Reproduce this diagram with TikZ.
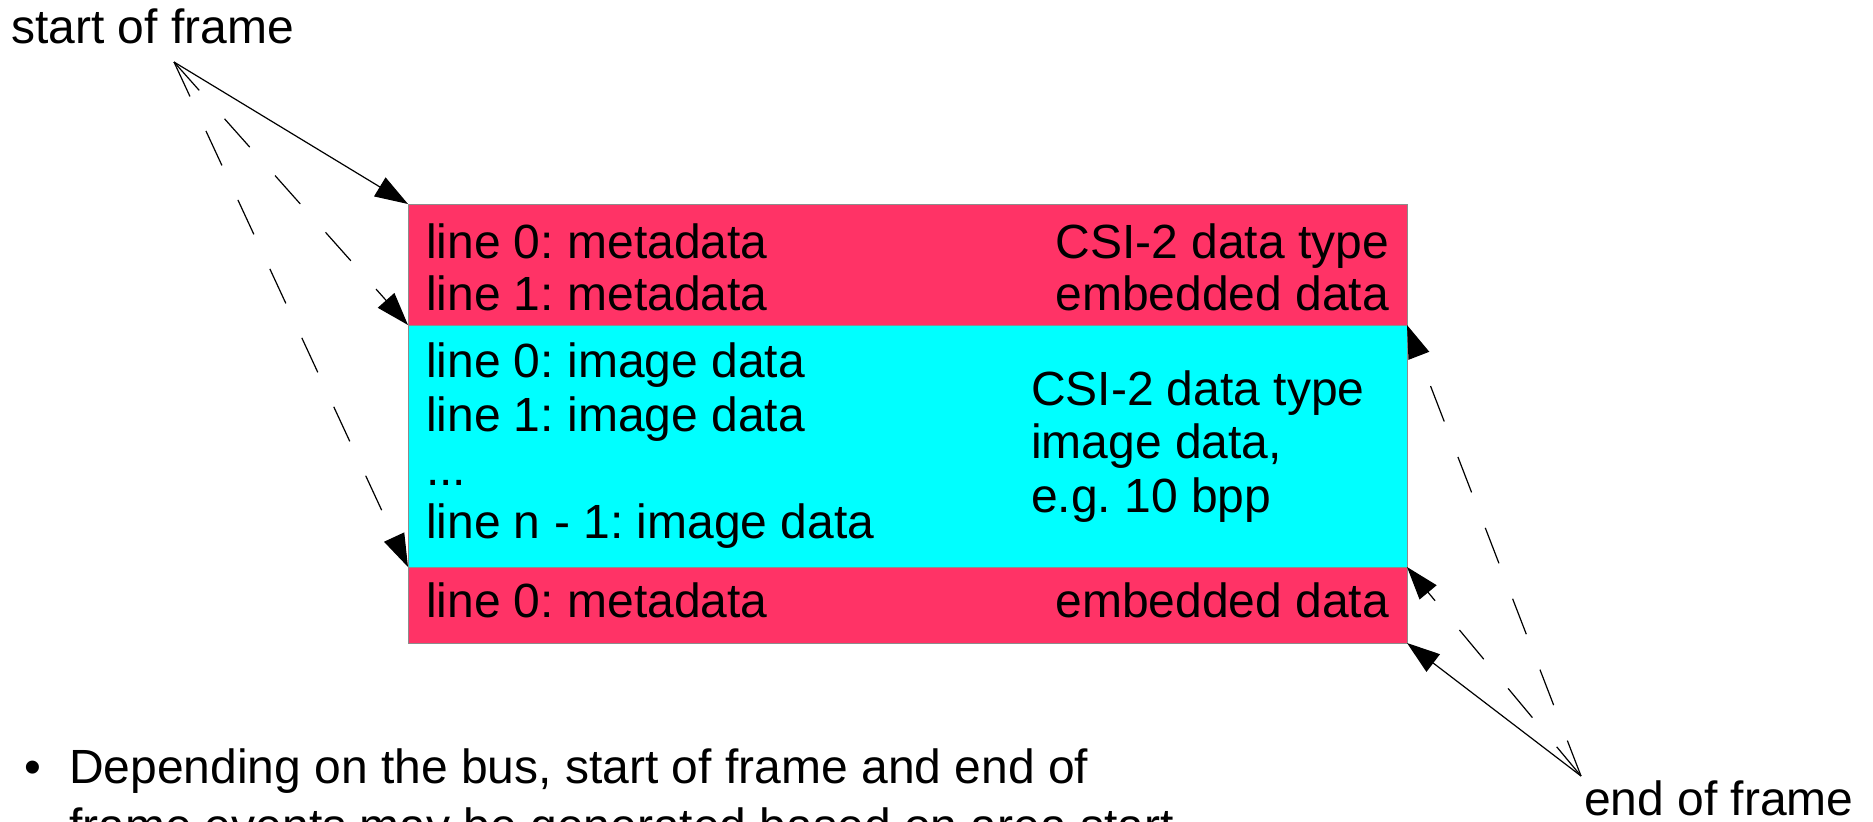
\documentclass[tikz,border=0pt]{standalone}
\usepackage{fontspec}
\setmainfont{Liberation Sans}
\usetikzlibrary{arrows.meta}
\frenchspacing

\definecolor{embred}{RGB}{255,51,102}
\definecolor{imgcyan}{RGB}{0,255,255}
\definecolor{edgegray}{RGB}{140,140,140}

\tikzset{
  part/.style={draw=edgegray, line width=0.5pt, anchor=north west,
               minimum width=499.5pt, inner sep=0pt, outer sep=0pt},
  txt/.style={inner sep=0pt, outer sep=0pt, font=\fontsize{24}{26}\selectfont},
  lbl/.style={txt, anchor=base west},
  rlbl/.style={txt, anchor=base east},
  tip/.style={-{Triangle[length=16.5pt, width=11pt]}},
  solidarrow/.style={tip, line width=0.6pt},
  dasharrow/.style={tip, line width=0.6pt, dash pattern=on 19pt off 19pt}
}

\begin{document}
\begin{tikzpicture}[x=0.5pt, y=-0.5pt]
  \clip (0,0) rectangle (1873,821);
  \fill[white] (0,0) rectangle (1873,821);

  % frame layout: embedded data, image data, embedded data
  \node[part, fill=embred,  minimum height=60.5pt] (emb1) at (408,204) {};
  \node[part, fill=imgcyan, minimum height=121pt]  (img)  at (408,325) {};
  \node[part, fill=embred,  minimum height=38pt]   (emb2) at (408,567) {};

  % texts of the upper embedded data
  \node[lbl] (t1) at (426,258) {line 0: metadata};
  \node[lbl] (t2) at (426,310) {line 1: metadata};
  \node[rlbl] (t3) at (1389,258) {CSI-2 data type};
  \node[rlbl] (t4) at (1389,310) {embedded data};

  % texts of the image data
  \node[lbl] (t5) at (426,377) {line 0: image data};
  \node[lbl] (t6) at (426,431) {line 1: image data};
  \node[lbl] (t7) at (426,485) {...};
  \node[lbl] (t8) at (426,538) {line n - 1: image data};
  \node[lbl] (t9)  at (1031,405) {CSI-2 data type};
  \node[lbl] (t10) at (1031,458) {image data,};
  \node[lbl] (t11) at (1031,512) {e.g. 10 bpp};

  % texts of the lower embedded data
  \node[lbl] (t12) at (426,617) {line 0: metadata};
  \node[rlbl] (t13) at (1389,617) {embedded data};

  % event labels
  \node[lbl] (sofl) at (11,43) {start of frame};
  \node[lbl] (eofl) at (1584,815) {end of frame};
  \coordinate (sof) at (174,62);
  \coordinate (eof) at (1581,776);

  % start of frame events
  \draw[solidarrow] (sof) -- (emb1.north west);
  \draw[dasharrow]  (sof) -- (img.north west);
  \draw[dasharrow]  (sof) -- (emb2.north west);

  % end of frame events
  \draw[solidarrow] (eof) -- (emb2.south east);
  \draw[dasharrow]  (eof) -- (emb2.north east);
  \draw[dasharrow]  (eof) -- (img.north east);

  % note below the frame
  \node[lbl] (bul) at (25,783) {•};
  \node[lbl] (n1) at (69,783) {Depending on the bus, start of frame and end of};
  \node[lbl] (n2) at (69,842) {frame events may be generated based on area start};
\end{tikzpicture}
\end{document}
